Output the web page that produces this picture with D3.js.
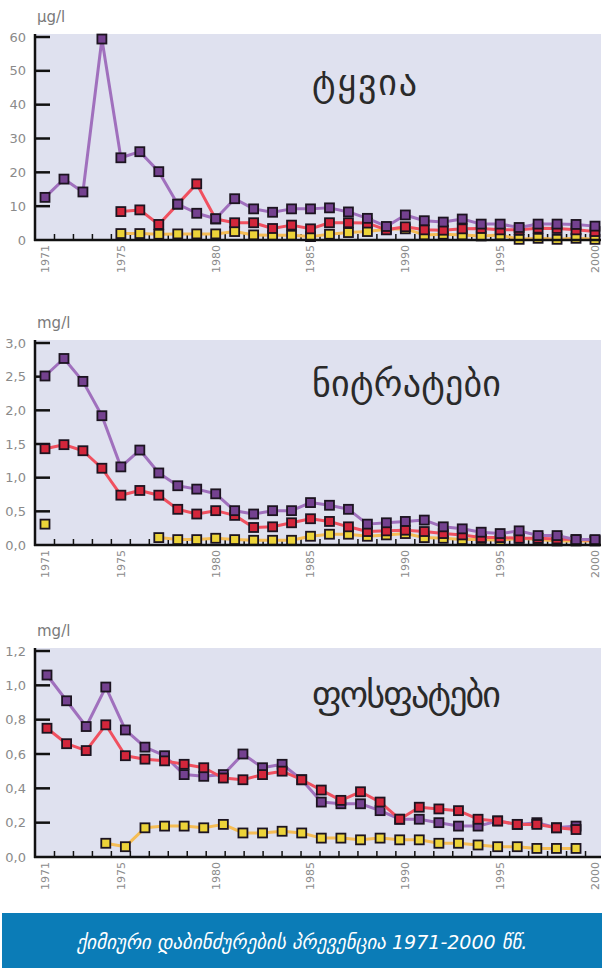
<!DOCTYPE html>
<html>
<head>
<meta charset="utf-8">
<script src="https://cdn.jsdelivr.net/npm/d3@7"></script>
<style>
  body { margin: 0; background: #fff; }
  svg { display: block; font-family: 'DejaVu Sans', sans-serif; }
</style>
</head>
<body>
<svg id="chart" width="604" height="968"></svg>
<script>
// years on the x axis
const years = [1971, 1972, 1973, 1974, 1975, 1976, 1977, 1978, 1979, 1980,
  1981, 1982, 1983, 1984, 1985, 1986, 1987, 1988, 1989, 1990,
  1991, 1992, 1993, 1994, 1995, 1996, 1997, 1998, 1999, 2000]
const yearLabels = [1971, 1975, 1980, 1985, 1990, 1995, 2000]

// lead, µg/l
const leadPurple = [12.6, 18, 14.2, 59.4, 24.3, 26.1, 20.2, 10.6, 7.9, 6.3,
  12.2, 9.2, 8.2, 9.2, 9.2, 9.5, 8.3, 6.4, 4.0, 7.4,
  5.7, 5.3, 6.2, 4.7, 4.7, 3.7, 4.7, 4.7, 4.6, 4.1]
const leadRed = [null, null, null, null, 8.4, 8.9, 4.6, 10.6, 16.6, 6.2,
  5.1, 5.1, 3.4, 4.4, 3.3, 5.1, 5.1, 5.0, 3.0, 3.9,
  3.0, 2.9, 3.3, 3.4, 3.0, 3.0, 3.5, 3.4, 3.0, 2.5]
const leadYellow = [null, null, null, null, 1.9, 1.9, 1.7, 1.8, 1.8, 1.8,
  2.5, 1.5, 1.4, 1.4, 1.0, 1.7, 2.2, 2.5, 3.2, 3.3,
  1.5, 1.7, 1.5, 1.2, 1.5, 0.2, 0.5, 0.2, 0.5, 0.2]

// nitrates, mg/l
const nitratePurple = [2.51, 2.77, 2.43, 1.92, 1.16, 1.41, 1.07, 0.88, 0.83, 0.76,
  0.51, 0.46, 0.51, 0.51, 0.63, 0.59, 0.53, 0.31, 0.33, 0.35,
  0.37, 0.27, 0.24, 0.19, 0.17, 0.21, 0.14, 0.14, 0.08, 0.08]
const nitrateRed = [1.43, 1.49, 1.40, 1.14, 0.74, 0.81, 0.74, 0.53, 0.46, 0.51,
  0.44, 0.26, 0.27, 0.33, 0.39, 0.35, 0.27, 0.20, 0.21, 0.22,
  0.20, 0.17, 0.15, 0.11, 0.11, 0.10, 0.10, 0.09, 0.08, 0.07]
const nitrateYellow = [0.31, null, null, null, null, null, 0.11, 0.08, 0.08, 0.10,
  0.08, 0.07, 0.07, 0.07, 0.13, 0.16, 0.16, 0.13, 0.15, 0.17,
  0.11, 0.10, 0.08, 0.08, 0.07, 0.10, 0.08, 0.06, 0.06, 0.06]

// phosphates, mg/l (28 points, spread a little wider than the year ticks)
const phosYears = [1971, 1972, 1973, 1974, 1975, 1976, 1977, 1978, 1979, 1980,
  1981, 1982, 1983, 1984, 1985, 1986, 1987, 1988, 1989, 1990,
  1991, 1992, 1993, 1994, 1995, 1996, 1997, 1998]
const phosPurple = [1.06, 0.91, 0.76, 0.99, 0.74, 0.64, 0.59, 0.48, 0.47, 0.48,
  0.60, 0.52, 0.54, 0.45, 0.32, 0.31, 0.31, 0.27, 0.22, 0.22,
  0.20, 0.18, 0.18, 0.21, 0.19, 0.20, 0.17, 0.18]
const phosRed = [0.75, 0.66, 0.62, 0.77, 0.59, 0.57, 0.56, 0.54, 0.52, 0.46,
  0.45, 0.48, 0.50, 0.45, 0.39, 0.33, 0.38, 0.32, 0.22, 0.29,
  0.28, 0.27, 0.22, 0.21, 0.19, 0.19, 0.17, 0.16]
const phosYellow = [null, null, null, 0.08, 0.06, 0.17, 0.18, 0.18, 0.17, 0.19,
  0.14, 0.14, 0.15, 0.14, 0.11, 0.11, 0.10, 0.11, 0.10, 0.10,
  0.08, 0.08, 0.07, 0.06, 0.06, 0.05, 0.05, 0.05]

const leadTicks = [0, 10, 20, 30, 40, 50, 60]
const nitrateTicks = [0, 0.5, 1, 1.5, 2, 2.5, 3]
const phosTicks = [0, 0.2, 0.4, 0.6, 0.8, 1, 1.2]

const COLOURS = {
  purple: { line: '#a070bd', mark: '#74418f' },
  red: { line: '#f0505f', mark: '#d3263b' },
  yellow: { line: '#f5bd55', mark: '#ecd339' }
}

const svg = d3.select('svg#chart')
const x = d3.scaleLinear().domain([1971, 2000]).range([45, 595])
const xPhos = d3.scaleLinear().domain([1971, 1998]).range([x(1971) + 2, x(1999)])
const commaFmt = d => d3.format('.1f')(d).replace('.', ',')

const panels = [
  {
    unit: 'µg/l', title: 'ტყვია', top: 37, bottom: 240, max: 60, ticks: leadTicks, fmt: d3.format('d'),
    titleY: 95, xs: years, xScale: x,
    series: [['yellow', leadYellow], ['red', leadRed], ['purple', leadPurple]]
  },
  {
    unit: 'mg/l', title: 'ნიტრატები', top: 343, bottom: 545, max: 3, ticks: nitrateTicks, fmt: commaFmt,
    titleY: 396, xs: years, xScale: x,
    series: [['yellow', nitrateYellow], ['red', nitrateRed], ['purple', nitratePurple]]
  },
  {
    unit: 'mg/l', title: 'ფოსფატები', top: 651, bottom: 857, max: 1.2, ticks: phosTicks, fmt: commaFmt,
    titleY: 707, xs: phosYears, xScale: xPhos,
    series: [['yellow', phosYellow], ['purple', phosPurple], ['red', phosRed]]
  }
]

panels.forEach(p => {
  const y = d3.scaleLinear().domain([0, p.max]).range([p.bottom, p.top])
  const g = svg.append('g')

  // plot background
  g.append('rect')
    .attr('x', 35).attr('y', p.top - 3)
    .attr('width', 566).attr('height', p.bottom - p.top + 3)
    .attr('fill', '#dfe1ef')

  // unit label
  g.append('text')
    .attr('x', 37).attr('y', p.top - 15)
    .attr('font-size', 15).attr('fill', '#7a7a7a')
    .text(p.unit)

  // title inside the plot
  g.append('text')
    .attr('x', 312).attr('y', p.titleY)
    .attr('font-size', 36).attr('fill', '#2a2a2a')
    .attr('textLength', p.title.length * 21)
    .text(p.title)

  // y ticks and labels
  g.selectAll('line.ytick')
    .data(p.ticks.filter(t => t > 0))
    .join('line')
    .attr('x1', 35).attr('x2', 50)
    .attr('y1', d => y(d)).attr('y2', d => y(d))
    .attr('stroke', '#111').attr('stroke-width', 2.5)
  g.selectAll('text.ylab')
    .data(p.ticks)
    .join('text')
    .attr('x', 26).attr('y', d => y(d))
    .attr('dy', '0.35em')
    .attr('text-anchor', 'end')
    .attr('font-size', 13).attr('fill', '#8a8a8a')
    .text(p.fmt)

  // minor x ticks between years
  g.selectAll('line.xtick')
    .data(years.slice(0, -1))
    .join('line')
    .attr('x1', d => x(d + 0.5)).attr('x2', d => x(d + 0.5))
    .attr('y1', p.bottom).attr('y2', p.bottom - 6)
    .attr('stroke', '#111').attr('stroke-width', 1.5)

  // x labels, rotated
  g.selectAll('text.xlab')
    .data(yearLabels)
    .join('text')
    .attr('transform', d => `translate(${x(d)},${p.bottom + 5}) rotate(-90)`)
    .attr('dy', '0.35em')
    .attr('text-anchor', 'end')
    .attr('font-size', 11).attr('fill', '#8a8a8a')
    .text(d => d)

  // series
  p.series.forEach(([name, vals]) => {
    const pts = vals.map((v, i) => ({ yr: p.xs[i], v }))
    const line = d3.line()
      .defined(d => d.v !== null)
      .x(d => p.xScale(d.yr))
      .y(d => y(d.v))
    g.append('path')
      .datum(pts)
      .attr('d', line)
      .attr('fill', 'none')
      .attr('stroke', COLOURS[name].line)
      .attr('stroke-width', 3)
      .attr('stroke-linejoin', 'round')
    g.selectAll(`rect.m-${name}`)
      .data(pts.filter(d => d.v !== null))
      .join('rect')
      .attr('x', d => p.xScale(d.yr) - 4.5)
      .attr('y', d => y(d.v) - 4.5)
      .attr('width', 9).attr('height', 9)
      .attr('fill', COLOURS[name].mark)
      .attr('stroke', '#1c1420').attr('stroke-width', 1.8)
  })

  // axes on top
  g.append('line')
    .attr('x1', 35).attr('x2', 35)
    .attr('y1', p.top - 3).attr('y2', p.bottom + 1)
    .attr('stroke', '#111').attr('stroke-width', 2.5)
  g.append('line')
    .attr('x1', 34).attr('x2', 601)
    .attr('y1', p.bottom).attr('y2', p.bottom)
    .attr('stroke', '#111').attr('stroke-width', 2.5)
})

// caption banner
svg.append('rect')
  .attr('x', 2).attr('y', 913)
  .attr('width', 600).attr('height', 55)
  .attr('fill', '#0b7cb7')
svg.append('text')
  .attr('x', 302).attr('y', 942)
  .attr('dy', '0.35em')
  .attr('text-anchor', 'middle')
  .attr('font-size', 19).attr('font-style', 'italic')
  .attr('fill', '#fff')
  .text('ქიმიური დაბინძურების პრევენცია 1971-2000 წწ.')
</script>
</body>
</html>
